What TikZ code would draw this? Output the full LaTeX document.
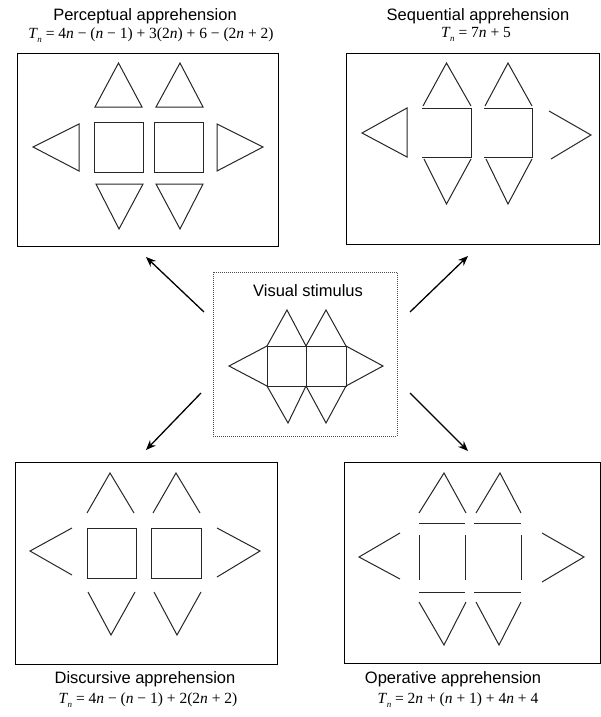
\documentclass[tikz,border=0pt]{standalone}
\usepackage{fontspec}
\setmainfont{Liberation Sans}
\newfontfamily\frmfont{Liberation Serif}
\newcommand{\mv}[1]{\textit{#1}}
\newcommand{\Tn}{\mv{T}\kern-0.5pt\raisebox{-0.25em}{\fontsize{9}{9}\selectfont\mv{n}}}
\usetikzlibrary{arrows.meta}
\tikzset{
  panel/.style={draw=black, line width=1pt, inner sep=0pt, rectangle},
  stim/.style={draw=black!70, line width=1pt, densely dotted, inner sep=0pt, rectangle},
  fig/.style={draw=black!85, line width=1pt, line join=miter},
  arr/.style={draw=black, line width=1.3pt, -{Stealth[length=10pt,width=8pt]}},
  ttl/.style={font=\fontsize{16.5}{19}\selectfont, inner sep=0pt},
  frm/.style={font=\frmfont\fontsize{15.5}{18}\selectfont, inner sep=0pt},
}
\begin{document}
\begin{tikzpicture}[x=1pt,y=-1pt]
\useasboundingbox (0,0) rectangle (601,717);
% ---- panels
\node[panel, minimum width=261pt, minimum height=192pt] (P1) at (147.5,150) {};
\node[panel, minimum width=253pt, minimum height=190pt] (P2) at (472.5,149) {};
\node[stim, minimum width=184pt, minimum height=164pt] (M) at (305,354) {};
\node[panel, minimum width=262pt, minimum height=202pt] (P3) at (146,563) {};
\node[panel, minimum width=256pt, minimum height=201pt] (P4) at (472,562.5) {};
% ---- titles
\node[ttl] (t1) at (145,16) {Perceptual apprehension};
\node[frm] (f1) at (151,35) {\Tn{} = 4\mv{n} − (\mv{n} − 1) + 3(2\mv{n}) + 6 − (2\mv{n} + 2)};
\node[ttl] (t2) at (478,16) {Sequential apprehension};
\node[frm] (f2) at (476,34) {\Tn{} = 7\mv{n} + 5};
\node[ttl] (tm) at (308,291) {Visual stimulus};
\node[ttl] (t3) at (145,679) {Discursive apprehension};
\node[frm] (f3) at (148,700) {\Tn{} = 4\mv{n} − (\mv{n} − 1) + 2(2\mv{n} + 2)};
\node[ttl] (t4) at (453,679) {Operative apprehension};
\node[frm] (f4) at (458,700) {\Tn{} = 2\mv{n} + (\mv{n} + 1) + 4\mv{n} + 4};
% ---- arrows
\coordinate (a1s) at (204,312); \coordinate (a1e) at (146,257);
\coordinate (a2s) at (410,312); \coordinate (a2e) at (468,256);
\coordinate (a3s) at (201,393); \coordinate (a3e) at (146,450);
\coordinate (a4s) at (410,393); \coordinate (a4e) at (468,451);
\draw[arr] (a1s) -- (a1e);
\draw[arr] (a2s) -- (a2e);
\draw[arr] (a3s) -- (a3e);
\draw[arr] (a4s) -- (a4e);
% ---- Perceptual
\draw[fig] (94,122) rectangle (143,172);
\draw[fig] (154,122) rectangle (203,172);
\draw[fig] (95,107) -- (118.5,63) -- (142,107) -- cycle;
\draw[fig] (156,107) -- (180,63) -- (203,107) -- cycle;
\draw[fig] (96,184) -- (119,229) -- (143,184) -- cycle;
\draw[fig] (156,184) -- (180,229) -- (203,184) -- cycle;
\draw[fig] (79,124) -- (33,147) -- (79,171) -- cycle;
\draw[fig] (217,124) -- (263,147) -- (217,171) -- cycle;
% ---- Sequential
\draw[fig] (407,108) -- (362,133) -- (407,157) -- cycle;
\draw[fig] (422,108) -- (471,108) -- (471,157) -- (422,157);
\draw[fig] (484,108) -- (532,108) -- (532,157) -- (484,157);
\draw[fig] (423,106) -- (446.5,63) -- (471,106);
\draw[fig] (485,106) -- (508,63) -- (532,106);
\draw[fig] (424,159) -- (446.5,204) -- (471,159);
\draw[fig] (486,159) -- (508,204) -- (532,159);
\draw[fig] (549,111) -- (591,135) -- (551,159);
% ---- Visual stimulus
\draw[fig] (267,346) rectangle (306,386);
\draw[fig] (306,346) rectangle (346,386);
\draw[fig] (267,346) -- (287,310) -- (306,346);
\draw[fig] (306,346) -- (326,310) -- (346,346);
\draw[fig] (267,386) -- (288,423) -- (306,386);
\draw[fig] (306,386) -- (326,423) -- (346,386);
\draw[fig] (267,346) -- (229,366) -- (267,386);
\draw[fig] (346,346) -- (383,366) -- (346,386);
% ---- Discursive
\draw[fig] (87,528) rectangle (136,578);
\draw[fig] (151,528) rectangle (201,578);
\draw[fig] (87,513) -- (110,473) -- (134,513);
\draw[fig] (153,513) -- (176,473) -- (200,513);
\draw[fig] (88,592) -- (111,635) -- (135,592);
\draw[fig] (154,592) -- (177,635) -- (201,592);
\draw[fig] (72,528) -- (30,551) -- (72,575);
\draw[fig] (217,528) -- (260,551) -- (217,577);
% ---- Operative
\draw[fig] (419,523) -- (465,523);
\draw[fig] (474,523) -- (521,523);
\draw[fig] (419,535) -- (419,580);
\draw[fig] (465,535) -- (465,580);
\draw[fig] (521,535) -- (521,580);
\draw[fig] (419,592) -- (465,592);
\draw[fig] (474,592) -- (521,592);
\draw[fig] (419,513) -- (444,473) -- (466,513);
\draw[fig] (476,513) -- (500,473) -- (521,513);
\draw[fig] (419,602) -- (444,645) -- (466,602);
\draw[fig] (476,602) -- (499,645) -- (521,602);
\draw[fig] (400,533) -- (359,557) -- (400,579);
\draw[fig] (542,533) -- (584,557) -- (542,582);
\end{tikzpicture}
\end{document}
